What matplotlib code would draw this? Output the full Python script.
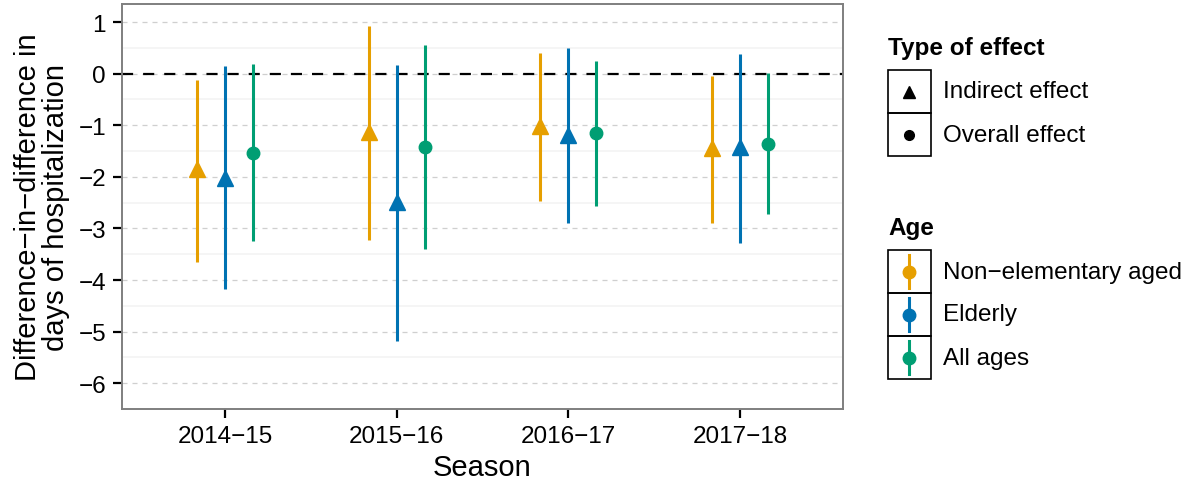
import matplotlib
matplotlib.use("Agg")
import matplotlib.pyplot as plt
from matplotlib.patches import Rectangle
import numpy as np

plt.rcParams['font.family'] = ['Liberation Sans', 'DejaVu Sans']
plt.rcParams['axes.unicode_minus'] = True

seasons = ['2014\u221215', '2015\u221216', '2016\u221217', '2017\u221218']
groups = ['Non\u2212elementary aged', 'Elderly', 'All ages']
colors = ['#E69F00', '#0072B2', '#009E73']
effect = ['Indirect effect', 'Elderly', 'Overall effect']
markers = ['^', '^', 'o']

# estimate, lower, upper per group across seasons
non_elem_est = [-1.85, -1.13, -1.01, -1.45]
non_elem_lo = [-3.65, -3.22, -2.47, -2.90]
non_elem_hi = [-0.13, 0.93, 0.40, -0.05]

elderly_est = [-2.02, -2.49, -1.19, -1.43]
elderly_lo = [-4.17, -5.18, -2.90, -3.28]
elderly_hi = [0.15, 0.17, 0.49, 0.39]

all_est = [-1.53, -1.42, -1.16, -1.36]
all_lo = [-3.24, -3.40, -2.56, -2.73]
all_hi = [0.19, 0.55, 0.25, 0.02]

est = [non_elem_est, elderly_est, all_est]
lo = [non_elem_lo, elderly_lo, all_lo]
hi = [non_elem_hi, elderly_hi, all_hi]

W, H = 1195, 489
fig = plt.figure(figsize=(W / 100, H / 100), dpi=100)
ax = fig.add_axes([122 / W, (H - 410) / H, 721 / W, 405 / H])

x = np.arange(1, len(seasons) + 1)
dodge = 0.163
for i in range(3):
    xs = x + (i - 1) * dodge
    ax.vlines(xs, lo[i], hi[i], color=colors[i], lw=2.2, zorder=3)
    ms = 11 if markers[i] == '^' else 9
    ax.plot(xs, est[i], linestyle='none', marker=markers[i], ms=ms,
            color=colors[i], mec=colors[i], zorder=4)

ax.axhline(0, color='black', lw=1.6, dashes=(5, 4.5), zorder=2)

ax.set_xlim(0.4, 4.6)
ax.set_ylim(-6.34, 1.35)
ax.set_xticks(x)
ax.set_xticklabels(seasons)
ax.set_yticks(range(-6, 2))
ax.set_yticklabels([str(v).replace('-', '\u2212') for v in range(-6, 2)])
ax.set_yticks(np.arange(-6.5, 1.5, 1.0), minor=True)
ax.grid(True, which='major', axis='y', color='#cfcfcf', lw=0.9, dashes=(4, 4))
ax.grid(True, which='minor', axis='y', color='#f4f4f4', lw=1.2)
ax.tick_params(axis='both', which='major', labelsize=17.5, length=6.5, width=1.6,
               color='black', pad=5)
ax.tick_params(axis='both', which='minor', length=0)
ax.set_axisbelow(True)
for s in ax.spines.values():
    s.set_color('#7f7f7f')
    s.set_linewidth(1.4)

ax.set_xlabel('Season', fontsize=21, labelpad=4)
ax.set_ylabel('Difference\u2212in\u2212difference in\ndays of hospitalization',
              fontsize=21, labelpad=6, linespacing=1.0)

# legends drawn in pixel space
lg = fig.add_axes([0, 0, 1, 1])
lg.set_xlim(0, W)
lg.set_ylim(H, 0)
lg.axis('off')

kx, kw, kh = 888, 43, 43
lg.text(kx, 48, 'Type of effect', fontsize=17.5, fontweight='bold', va='center', ha='left')
for j, (lab, mk) in enumerate([('Indirect effect', '^'), ('Overall effect', 'o')]):
    y0 = 71 + j * kh
    lg.add_patch(Rectangle((kx, y0), kw, kh, fill=False, ec='black', lw=1.2))
    lg.plot(kx + kw / 2, y0 + kh / 2, marker=mk, ms=9 if mk == '^' else 7,
            color='black', linestyle='none')
    lg.text(943, y0 + kh / 2, lab, fontsize=17.5, va='center', ha='left')

lg.text(kx, 229, 'Age', fontsize=17.5, fontweight='bold', va='center', ha='left')
for j, lab in enumerate(groups):
    y0 = 251 + j * kh
    lg.add_patch(Rectangle((kx, y0), kw, kh, fill=False, ec='black', lw=1.2))
    lg.plot([kx + kw / 2] * 2, [y0 + 5, y0 + kh - 5], color=colors[j], lw=2.2)
    lg.plot(kx + kw / 2, y0 + kh / 2, marker='o', ms=9, color=colors[j], linestyle='none')
    lg.text(943, y0 + kh / 2, lab, fontsize=17.5, va='center', ha='left')

fig.savefig('out.png', dpi=100)
